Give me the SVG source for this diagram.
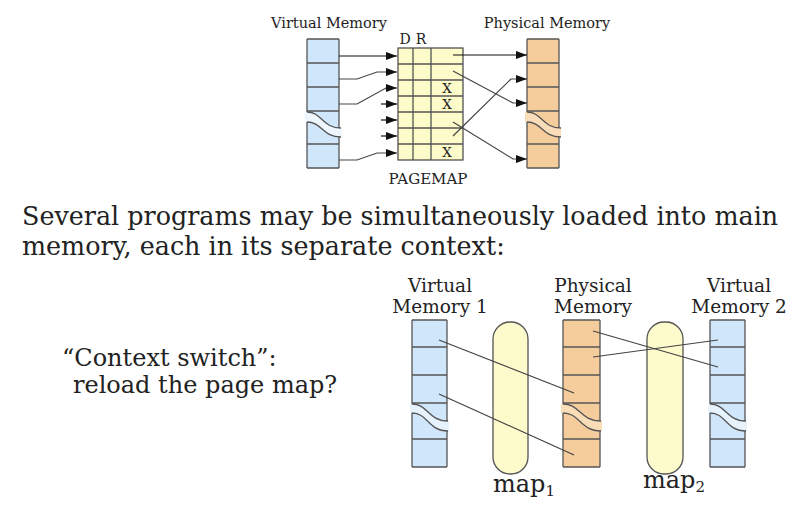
<svg xmlns="http://www.w3.org/2000/svg" width="796" height="510" viewBox="0 0 796 510">
<style>
text{font-family:"DejaVu Serif","Liberation Serif",serif;fill:#222}
.vm{fill:#d0e6fa}
.pm{fill:#f5cd9d}
.gap{fill:#ffffff}
.ln{fill:none;stroke:#555;stroke-width:1.3}
.pg{fill:#fdfbc9;stroke:#444;stroke-width:1.2}
.map{fill:#fdfbcc;stroke:#555;stroke-width:1.3}
.c{fill:none;stroke:#444;stroke-width:1.2}
.cb{fill:none;stroke:#111;stroke-width:1.2}
.c2{fill:none;stroke:#444;stroke-width:1.2}
</style>
<defs>
<marker id="ah" markerUnits="userSpaceOnUse" markerWidth="11" markerHeight="8" refX="11" refY="4" orient="auto">
<path d="M0 0 L11 4 L0 8 Z" fill="#111"/>
</marker>
</defs>

<g id="labels-top">
<text x="329" y="28" font-size="14.5" text-anchor="middle">Virtual Memory</text>
<text x="547" y="28" font-size="14.5" text-anchor="middle">Physical Memory</text>
<text x="428" y="184" font-size="15" text-anchor="middle">PAGEMAP</text>
</g>

<g id="vm-top">
<rect class="vm" x="307" y="39" width="32" height="129"/>
<path class="gap" d="M305 112 C322 112 322 128 342 128 L342 137 C322 137 322 122 305 122 Z" style="fill:#eef6fd"/>
<path class="ln" d="M307 39 H339 M307 63 H339 M307 87 H339 M307 111 H339 M307 144 H339 M307 168 H339 M307 39 V112 M307 122 V168 M339 39 V128 M339 137 V168"/>
<path class="ln" d="M307 112 C322 112 322 128 341 128 M307 122 C322 122 322 137 341 137"/>
</g>

<g id="pagemap">
<rect class="pg" x="398" y="48" width="65" height="112"/>
<path class="ln" d="M413 48 V160 M431 48 V160 M398 64 H463 M398 80 H463 M398 96 H463 M398 112 H463 M398 128 H463 M398 144 H463"/>
<text x="405" y="44" font-size="14" text-anchor="middle">D</text>
<text x="421" y="44" font-size="14" text-anchor="middle">R</text>
<text x="447" y="93" font-size="13.5" text-anchor="middle">X</text>
<text x="447" y="109" font-size="13.5" text-anchor="middle">X</text>
<text x="447" y="157" font-size="13.5" text-anchor="middle">X</text>
</g>

<g id="pm-top">
<rect class="pm" x="527" y="39" width="32" height="129"/>
<path class="gap" d="M525 112 C542 112 542 128 561 128 L561 137 C542 137 542 122 525 122 Z" style="fill:#f9dcb8"/>
<path class="ln" d="M527 39 H559 M527 63 H559 M527 87 H559 M527 111 H559 M527 144 H559 M527 168 H559 M527 39 V112 M527 122 V168 M559 39 V128 M559 137 V168"/>
<path class="ln" d="M527 112 C542 112 542 128 561 128 M527 122 C542 122 542 137 561 137"/>
</g>

<g id="connectors-top">
<path class="cb" d="M339 56 H397" marker-end="url(#ah)"/>
<path class="c" d="M339 79 H357 L377 72 H397" marker-end="url(#ah)"/>
<path class="c" d="M339 104 H357 L386 88 H397" marker-end="url(#ah)"/>
<path class="cb" d="M381 104 H397" marker-end="url(#ah)"/>
<path class="cb" d="M381 120 H397" marker-end="url(#ah)"/>
<path class="cb" d="M381 136 H397" marker-end="url(#ah)"/>
<path class="c" d="M339 160 H357 L377 153 H397" marker-end="url(#ah)"/>
<path class="cb" d="M453 55 H527" marker-end="url(#ah)"/>
<path class="c" d="M453 71 L513 103 H527" marker-end="url(#ah)"/>
<path class="c" d="M453 122 L513 159 H527" marker-end="url(#ah)"/>
<path class="c" d="M453 136 L511 79 H527" marker-end="url(#ah)"/>
</g>

<g id="text-main">
<text x="22" y="225" font-size="25.4">Several programs may be simultaneously loaded into main</text>
<text x="22" y="255" font-size="25.4">memory, each in its separate context:</text>
<text x="62" y="366" font-size="24">“Context switch”:</text>
<text x="73" y="393" font-size="24">reload the page map?</text>
</g>

<g id="labels-bottom">
<text x="440" y="292" font-size="18.5" text-anchor="middle">Virtual</text>
<text x="440" y="313" font-size="18.5" text-anchor="middle">Memory 1</text>
<text x="593" y="292" font-size="18.5" text-anchor="middle">Physical</text>
<text x="593" y="313" font-size="18.5" text-anchor="middle">Memory</text>
<text x="739" y="292" font-size="18.5" text-anchor="middle">Virtual</text>
<text x="739" y="313" font-size="18.5" text-anchor="middle">Memory 2</text>
</g>

<g id="vm1">
<rect class="vm" x="412" y="320" width="35" height="147"/>
<path class="gap" d="M410 404 C428 404 428 421 449 421 L449 431 C428 431 428 413 410 413 Z" style="fill:#e6f2fc"/>
<path class="ln" d="M412 320 H447 M412 347 H447 M412 375 H447 M412 403 H447 M412 439 H447 M412 467 H447 M412 320 V404 M412 413 V467 M447 320 V421 M447 431 V467"/>
<path class="ln" d="M412 404 C428 404 428 421 448 421 M412 413 C428 413 428 431 448 431"/>
</g>

<g id="map1">
<rect class="map" x="493" y="322" width="35" height="152" rx="17"/>
<text x="493" y="492" font-size="24">map<tspan font-size="15" dy="4">1</tspan></text>
</g>

<g id="pm">
<rect class="pm" x="563" y="320" width="37" height="147"/>
<path class="gap" d="M561 404 C580 404 580 421 602 421 L602 431 C580 431 580 413 561 413 Z" style="fill:#f9dcb8"/>
<path class="ln" d="M563 320 H600 M563 347 H600 M563 375 H600 M563 403 H600 M563 439 H600 M563 467 H600 M563 320 V404 M563 413 V467 M600 320 V421 M600 431 V467"/>
<path class="ln" d="M563 404 C580 404 580 421 601 421 M563 413 C580 413 580 431 601 431"/>
</g>

<g id="map2">
<rect class="map" x="647" y="322" width="36" height="152" rx="17"/>
<text x="643" y="488" font-size="24">map<tspan font-size="15" dy="4">2</tspan></text>
</g>

<g id="vm2">
<rect class="vm" x="710" y="320" width="35" height="147"/>
<path class="gap" d="M708 404 C726 404 726 421 747 421 L747 431 C726 431 726 413 708 413 Z" style="fill:#e6f2fc"/>
<path class="ln" d="M710 320 H745 M710 347 H745 M710 375 H745 M710 403 H745 M710 439 H745 M710 467 H745 M710 320 V404 M710 413 V467 M745 320 V421 M745 431 V467"/>
<path class="ln" d="M710 404 C726 404 726 421 746 421 M710 413 C726 413 726 431 746 431"/>
</g>

<g id="connectors-bottom">
<path class="c2" d="M439 340 L574 393"/>
<path class="c2" d="M439 394 L574 455"/>
<path class="c2" d="M593 331 L718 367"/>
<path class="c2" d="M593 357 L718 340"/>
</g>
</svg>
